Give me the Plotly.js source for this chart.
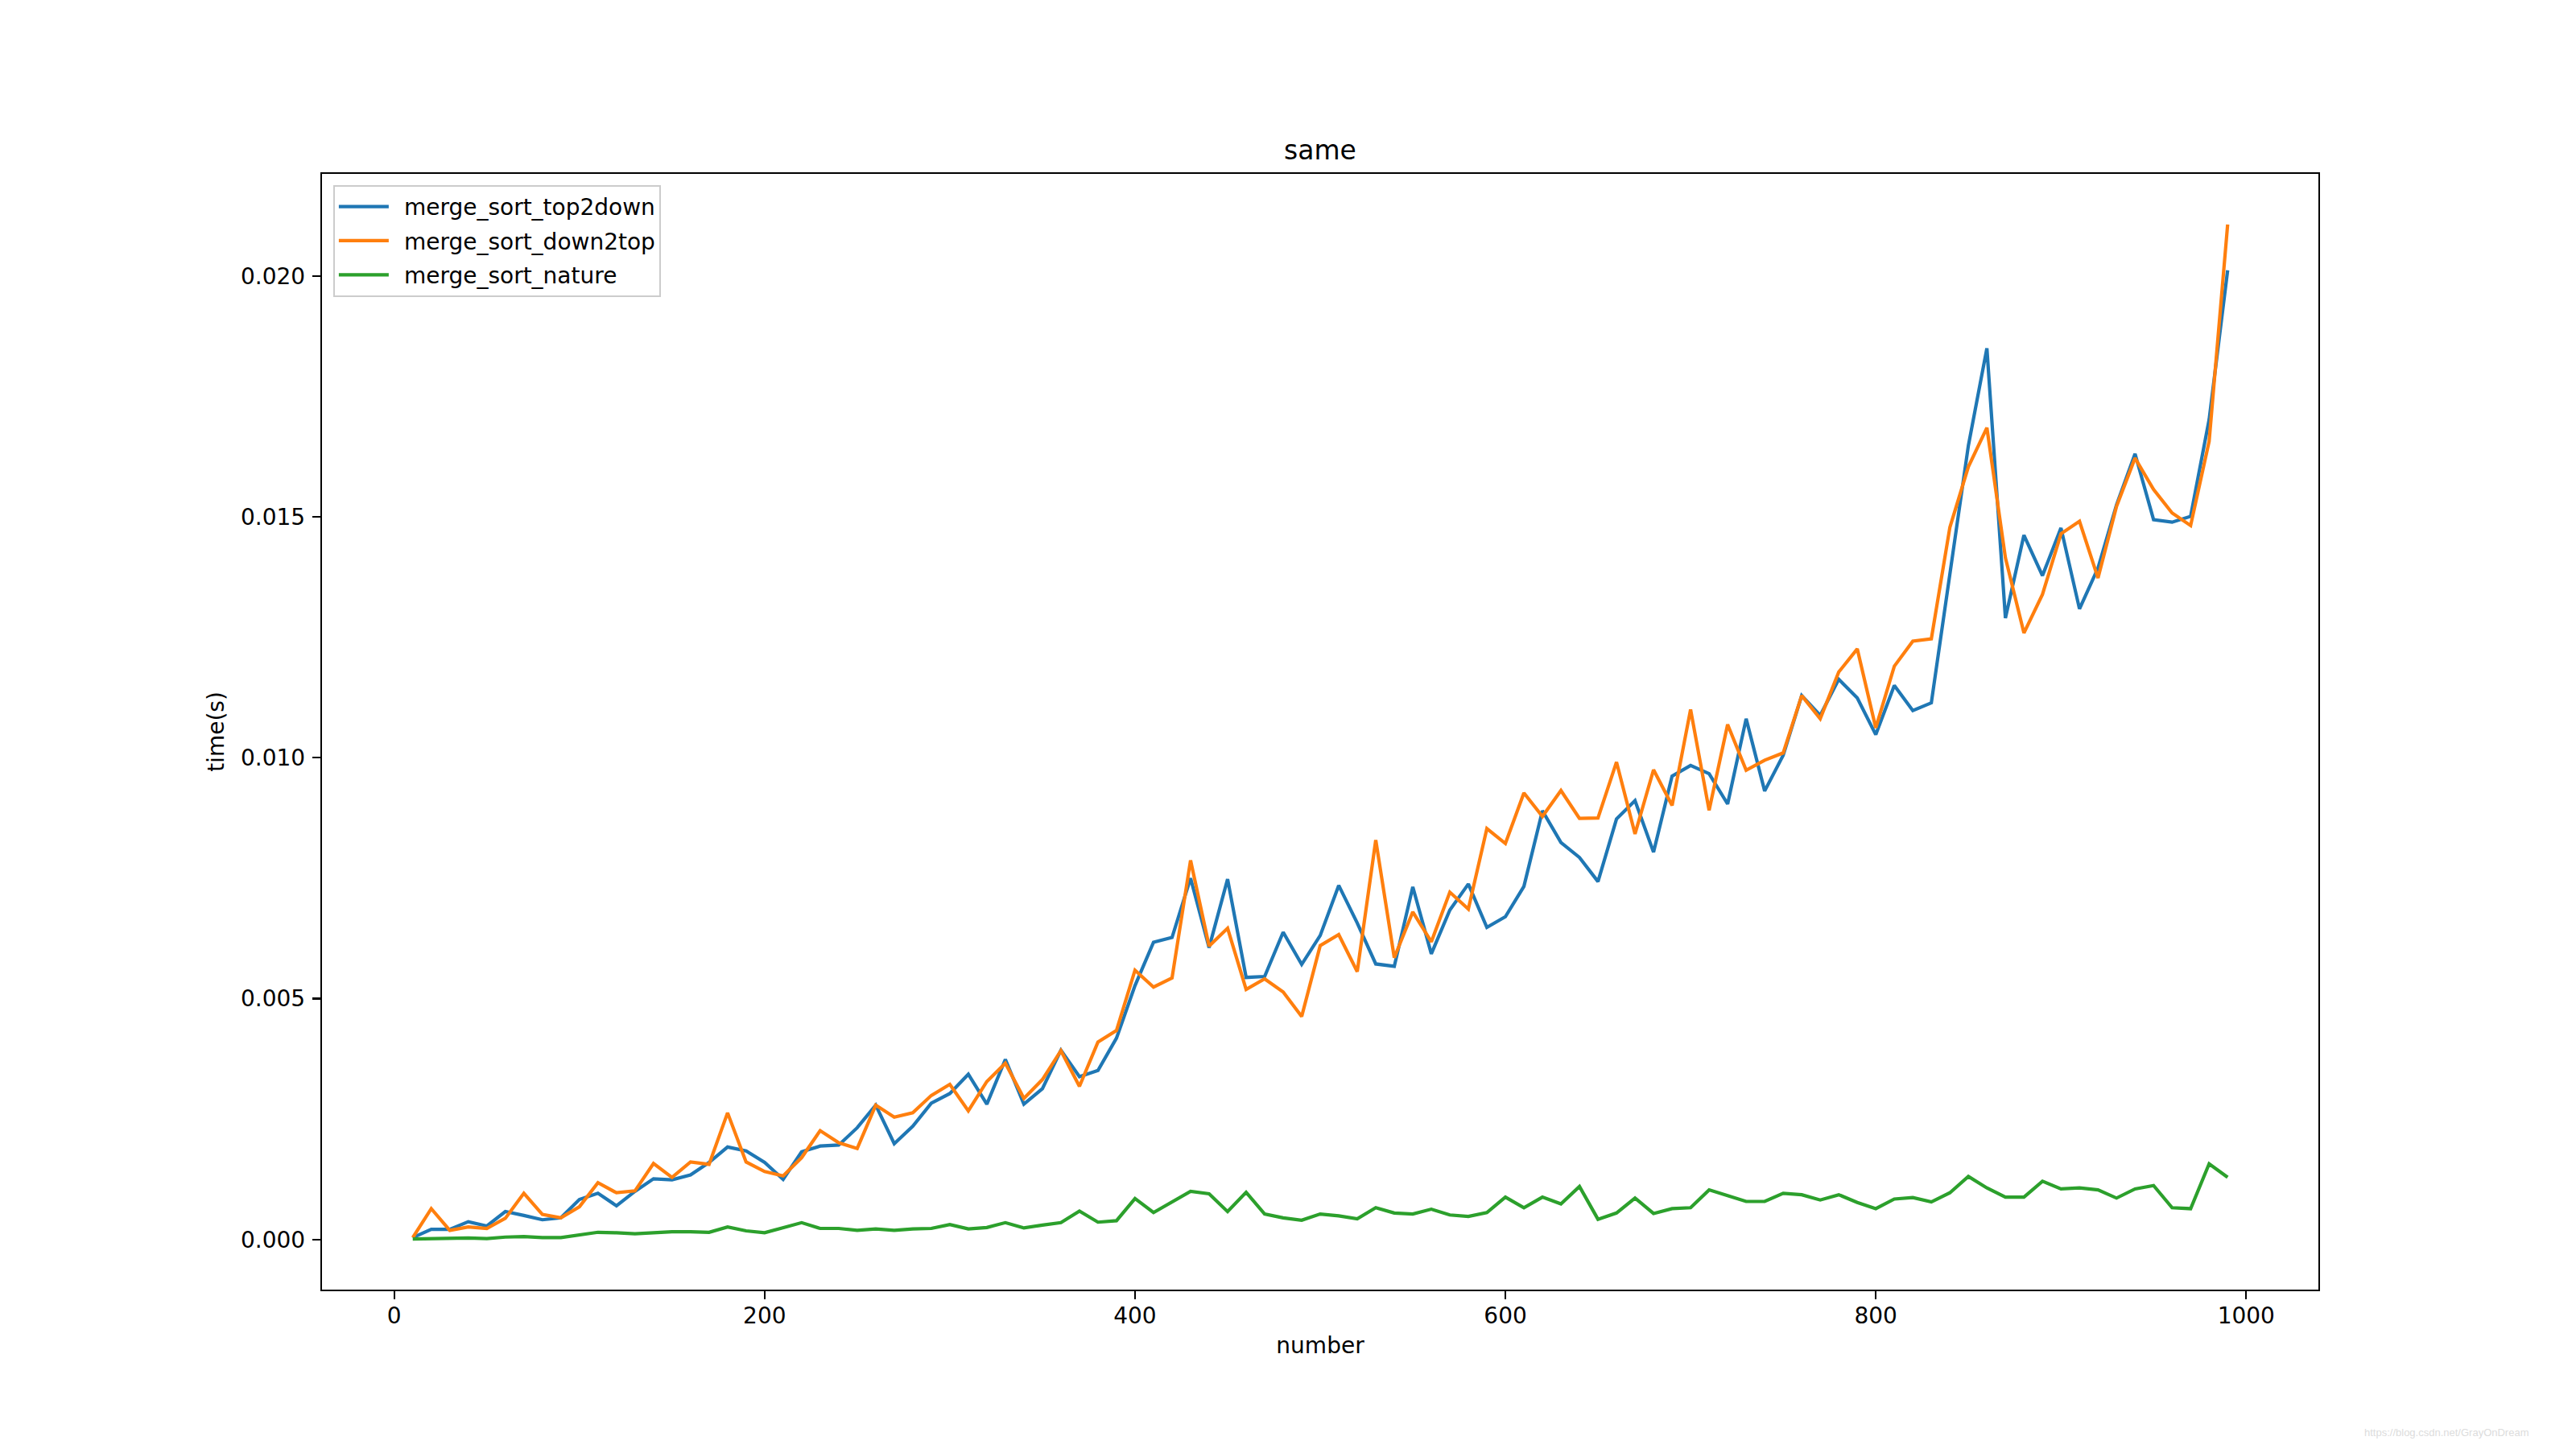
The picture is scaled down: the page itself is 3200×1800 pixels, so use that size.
<!DOCTYPE html>
<html>
<head>
<meta charset="utf-8">
<script src="https://cdn.plot.ly/plotly-3.0.1.min.js"></script>
<style>
  html, body { margin: 0; padding: 0; background: #ffffff; }
  #chart { width: 3200px; height: 1800px; }
</style>
</head>
<body>
<div id="chart"></div>
<script>
// ---- data ----
const number = [10, 20, 30, 40, 50, 60, 70, 80, 90, 100,
  110, 120, 130, 140, 150, 160, 170, 180, 190, 200,
  210, 220, 230, 240, 250, 260, 270, 280, 290, 300,
  310, 320, 330, 340, 350, 360, 370, 380, 390, 400,
  410, 420, 430, 440, 450, 460, 470, 480, 490, 500,
  510, 520, 530, 540, 550, 560, 570, 580, 590, 600,
  610, 620, 630, 640, 650, 660, 670, 680, 690, 700,
  710, 720, 730, 740, 750, 760, 770, 780, 790, 800,
  810, 820, 830, 840, 850, 860, 870, 880, 890, 900,
  910, 920, 930, 940, 950, 960, 970, 980, 990];

const mergeSortTop2down = [0.00004, 0.00021, 0.00021, 0.00037, 0.00028, 0.00058, 0.00050, 0.00041, 0.00045, 0.00083,
  0.00096, 0.00070, 0.00100, 0.00126, 0.00124, 0.00134, 0.00160, 0.00192, 0.00184, 0.00160,
  0.00125, 0.00182, 0.00194, 0.00196, 0.00232, 0.00279, 0.00199, 0.00235, 0.00283, 0.00303,
  0.00343, 0.00281, 0.00374, 0.00281, 0.00313, 0.00393, 0.00338, 0.00351, 0.00418, 0.00527,
  0.00617, 0.00627, 0.00750, 0.00606, 0.00748, 0.00544, 0.00546, 0.00638, 0.00571, 0.00631,
  0.00735, 0.00657, 0.00572, 0.00567, 0.00732, 0.00593, 0.00684, 0.00738, 0.00648, 0.00670,
  0.00733, 0.00890, 0.00824, 0.00793, 0.00743, 0.00873, 0.00911, 0.00804, 0.00962, 0.00984,
  0.00967, 0.00904, 0.01081, 0.00931, 0.01005, 0.01129, 0.01088, 0.01163, 0.01124, 0.01048,
  0.01150, 0.01098, 0.01114, 0.01381, 0.01648, 0.01850, 0.01290, 0.01462, 0.01378, 0.01477,
  0.01309, 0.01394, 0.01525, 0.01631, 0.01494, 0.01489, 0.01501, 0.01702, 0.02012];

const mergeSortDown2top = [0.00004, 0.00064, 0.00019, 0.00026, 0.00023, 0.00044, 0.00096, 0.00052, 0.00045, 0.00068,
  0.00118, 0.00097, 0.00101, 0.00158, 0.00129, 0.00161, 0.00156, 0.00263, 0.00161, 0.00141,
  0.00132, 0.00170, 0.00226, 0.00201, 0.00189, 0.00279, 0.00254, 0.00263, 0.00299, 0.00322,
  0.00267, 0.00328, 0.00366, 0.00293, 0.00332, 0.00392, 0.00318, 0.00410, 0.00434, 0.00559,
  0.00524, 0.00543, 0.00787, 0.00609, 0.00646, 0.00519, 0.00541, 0.00514, 0.00463, 0.00610,
  0.00633, 0.00556, 0.00829, 0.00585, 0.00680, 0.00618, 0.00721, 0.00686, 0.00853, 0.00822,
  0.00927, 0.00878, 0.00932, 0.00874, 0.00875, 0.00991, 0.00842, 0.00975, 0.00901, 0.01100,
  0.00891, 0.01069, 0.00974, 0.00995, 0.01010, 0.01129, 0.01081, 0.01178, 0.01226, 0.01062,
  0.01190, 0.01242, 0.01247, 0.01478, 0.01604, 0.01685, 0.01415, 0.01259, 0.01339, 0.01465,
  0.01491, 0.01373, 0.01522, 0.01622, 0.01557, 0.01508, 0.01482, 0.01657, 0.02107];

const mergeSortNature = [0.00001, 0.00002, 0.00002, 0.00003, 0.00002, 0.00005, 0.00006, 0.00004, 0.00004, 0.00009,
  0.00015, 0.00014, 0.00012, 0.00014, 0.00016, 0.00016, 0.00015, 0.00026, 0.00018, 0.00014,
  0.00025, 0.00035, 0.00023, 0.00023, 0.00019, 0.00022, 0.00019, 0.00022, 0.00023, 0.00031,
  0.00022, 0.00025, 0.00035, 0.00024, 0.00030, 0.00035, 0.00059, 0.00036, 0.00039, 0.00085,
  0.00056, 0.00077, 0.00100, 0.00095, 0.00058, 0.00098, 0.00053, 0.00045, 0.00040, 0.00053,
  0.00049, 0.00043, 0.00066, 0.00055, 0.00053, 0.00063, 0.00051, 0.00048, 0.00056, 0.00088,
  0.00066, 0.00088, 0.00074, 0.00110, 0.00042, 0.00055, 0.00086, 0.00054, 0.00064, 0.00066,
  0.00103, 0.00091, 0.00079, 0.00079, 0.00096, 0.00093, 0.00082, 0.00093, 0.00077, 0.00064,
  0.00084, 0.00087, 0.00078, 0.00097, 0.00131, 0.00107, 0.00088, 0.00088, 0.00121, 0.00105,
  0.00107, 0.00103, 0.00086, 0.00105, 0.00112, 0.00066, 0.00064, 0.00157, 0.00129];

const seriesNames = ["merge_sort_top2down", "merge_sort_down2top", "merge_sort_nature"];
const seriesColors = ["#1f77b4", "#ff7f0e", "#2ca02c"];
const seriesValues = [mergeSortTop2down, mergeSortDown2top, mergeSortNature];

const chartTitle = "same";
const xLabel = "number";
const yLabel = "time(s)";
const watermark = "https://blog.csdn.net/GrayOnDream";

// ---- chart ----
const FONT = "DejaVu Sans, Liberation Sans, sans-serif";
const traces = seriesNames.map((name, i) => ({
  type: "scatter",
  mode: "lines",
  name: name,
  legendgroup: name,
  x: number,
  y: seriesValues[i],
  line: { color: seriesColors[i], width: 4.2 }
}));

const layout = {
  width: 3200,
  height: 1800,
  paper_bgcolor: "#ffffff",
  plot_bgcolor: "#ffffff",
  font: { family: FONT, size: 28, color: "#000000" },
  margin: { l: 400, r: 320, t: 216, b: 198, pad: 0 },
  title: {
    text: chartTitle,
    font: { family: FONT, size: 33, color: "#000000" },
    xref: "paper", x: 0.5, xanchor: "center",
    yref: "paper", y: 1, yanchor: "bottom",
    pad: { b: 18 }
  },
  showlegend: true,
  legend: {
    x: 0.0056, y: 0.99, xanchor: "left", yanchor: "top",
    bgcolor: "rgba(255,255,255,0.8)",
    bordercolor: "#cccccc", borderwidth: 2,
    font: { family: FONT, size: 28, color: "#000000" },
    traceorder: "grouped",
    tracegroupgap: 3,
    itemwidth: 76
  },
  xaxis: {
    range: [-39, 1039],
    tickmode: "linear", tick0: 0, dtick: 200,
    ticks: "outside", ticklen: 10, tickwidth: 2.2, tickcolor: "#000000",
    showline: true, linecolor: "#000000", linewidth: 2.2, mirror: true,
    showgrid: false, zeroline: false,
    tickfont: { family: FONT, size: 28, color: "#000000" },
    ticklabelstandoff: -4,
    title: { text: xLabel, font: { family: FONT, size: 28, color: "#000000" }, standoff: 12 }
  },
  yaxis: {
    range: [-0.00104, 0.02212],
    tickmode: "linear", tick0: 0, dtick: 0.005, tickformat: ".3f",
    ticks: "outside", ticklen: 10, tickwidth: 2.2, tickcolor: "#000000",
    showline: true, linecolor: "#000000", linewidth: 2.2, mirror: true,
    showgrid: false, zeroline: false,
    tickfont: { family: FONT, size: 28, color: "#000000" },
    ticklabelstandoff: 3,
    title: { text: yLabel, font: { family: FONT, size: 28, color: "#000000" }, standoff: 12 }
  },
  annotations: [{
    text: watermark,
    xref: "paper", yref: "paper",
    x: 1.106, y: -0.1284, xanchor: "right", yanchor: "middle",
    showarrow: false,
    font: { family: "Liberation Sans, Arial, sans-serif", size: 13, color: "#dcdcdc" }
  }]
};

Plotly.newPlot("chart", traces, layout, { staticPlot: true, displayModeBar: false }).then(gd => {
  // lengthen legend line handles to match matplotlib's handle length
  gd.querySelectorAll(".legend .legendlines path").forEach(p => {
    p.setAttribute("d", "M5,0h62");
  });
});
</script>
</body>
</html>
